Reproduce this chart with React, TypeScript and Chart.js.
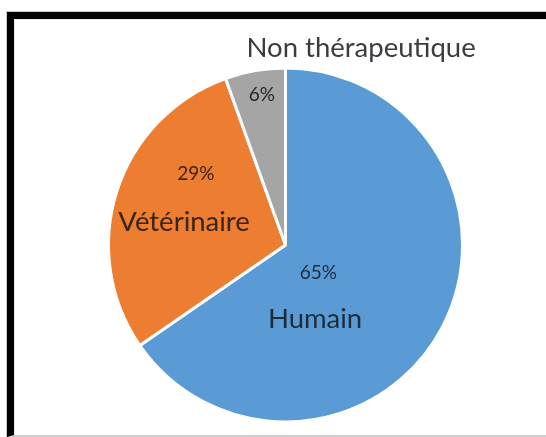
import React, { useEffect, useRef } from "react";
import { Chart, registerables } from "chart.js";

Chart.register(...registerables);

const categories = ["Humain", "Vétérinaire", "Non thérapeutique"];
const values = [65.4, 29.1, 5.5];
const percentLabels = ["65%", "29%", "6%"];
const colors = ["#5B9BD5", "#ED7D31", "#A5A5A5"];

// label placements, in units of the pie radius from its centre
const pctPos = [
  [0.186, 0.158],
  [-0.507, -0.401],
  [-0.133, -0.847],
];
const namePos = [
  [0.167, 0.418],
  [-0.573, -0.13],
  [0.427, -1.113],
];
const nameColors = ["#1d2c3d", "#3a2416", "#3d3a40"];
const pctColors = ["#1d2c3d", "#3a2416", "#262626"];

const labelPlugin = {
  id: "pieLabels",
  afterDatasetsDraw(chart: any) {
    const meta = chart.getDatasetMeta(0);
    const arc = meta.data[0];
    if (!arc) return;
    const { x, y, outerRadius } = arc.getProps(["x", "y", "outerRadius"], true);
    const ctx = chart.ctx;
    ctx.save();
    ctx.textAlign = "center";
    ctx.textBaseline = "middle";
    categories.forEach((name, i) => {
      ctx.fillStyle = pctColors[i];
      ctx.font = "19px Lato";
      ctx.fillText(percentLabels[i], x + pctPos[i][0] * outerRadius, y + pctPos[i][1] * outerRadius);
      ctx.fillStyle = nameColors[i];
      ctx.font = "27.5px Lato";
      ctx.fillText(name, x + namePos[i][0] * outerRadius, y + namePos[i][1] * outerRadius);
    });
    ctx.restore();
  },
};

export default function App() {
  const ref = useRef<HTMLCanvasElement | null>(null);
  useEffect(() => {
    if (!ref.current) return;
    const chart = new Chart(ref.current, {
      type: "pie",
      data: {
        labels: categories,
        datasets: [
          {
            data: values,
            backgroundColor: colors,
            borderColor: "#ffffff",
            borderWidth: 3,
          },
        ],
      },
      options: {
        animation: false,
        responsive: false,
        layout: { padding: { left: 107, right: 82, top: 66.5, bottom: 13.5 } },
        plugins: { legend: { display: false }, tooltip: { enabled: false } },
      },
      plugins: [labelPlugin],
    });
    return () => chart.destroy();
  }, []);

  return (
    <div style={{ position: "fixed", left: 0, top: 0, width: 546, height: 437, background: "#fff", overflow: "hidden" }}>
      <div style={{ position: "absolute", left: 6, top: 11, width: 540, height: 426, boxSizing: "border-box", borderLeft: "1px solid #c8c8c8", borderTop: "1px solid #c8c8c8" }} />
      <div style={{ position: "absolute", left: 7, top: 12, width: 539, height: 425, boxSizing: "border-box", borderLeft: "7px solid #000", borderTop: "7px solid #000", borderBottom: "2px solid #cfcfcf" }} />
      <div style={{ position: "absolute", left: 14, top: 19, width: 532, height: 416, boxSizing: "border-box", borderLeft: "1px solid #e6e6e6", borderTop: "1px solid #e6e6e6" }} />
      <canvas ref={ref} width={546} height={437} style={{ position: "absolute", left: 0, top: 0, display: "block" }} />
    </div>
  );
}
